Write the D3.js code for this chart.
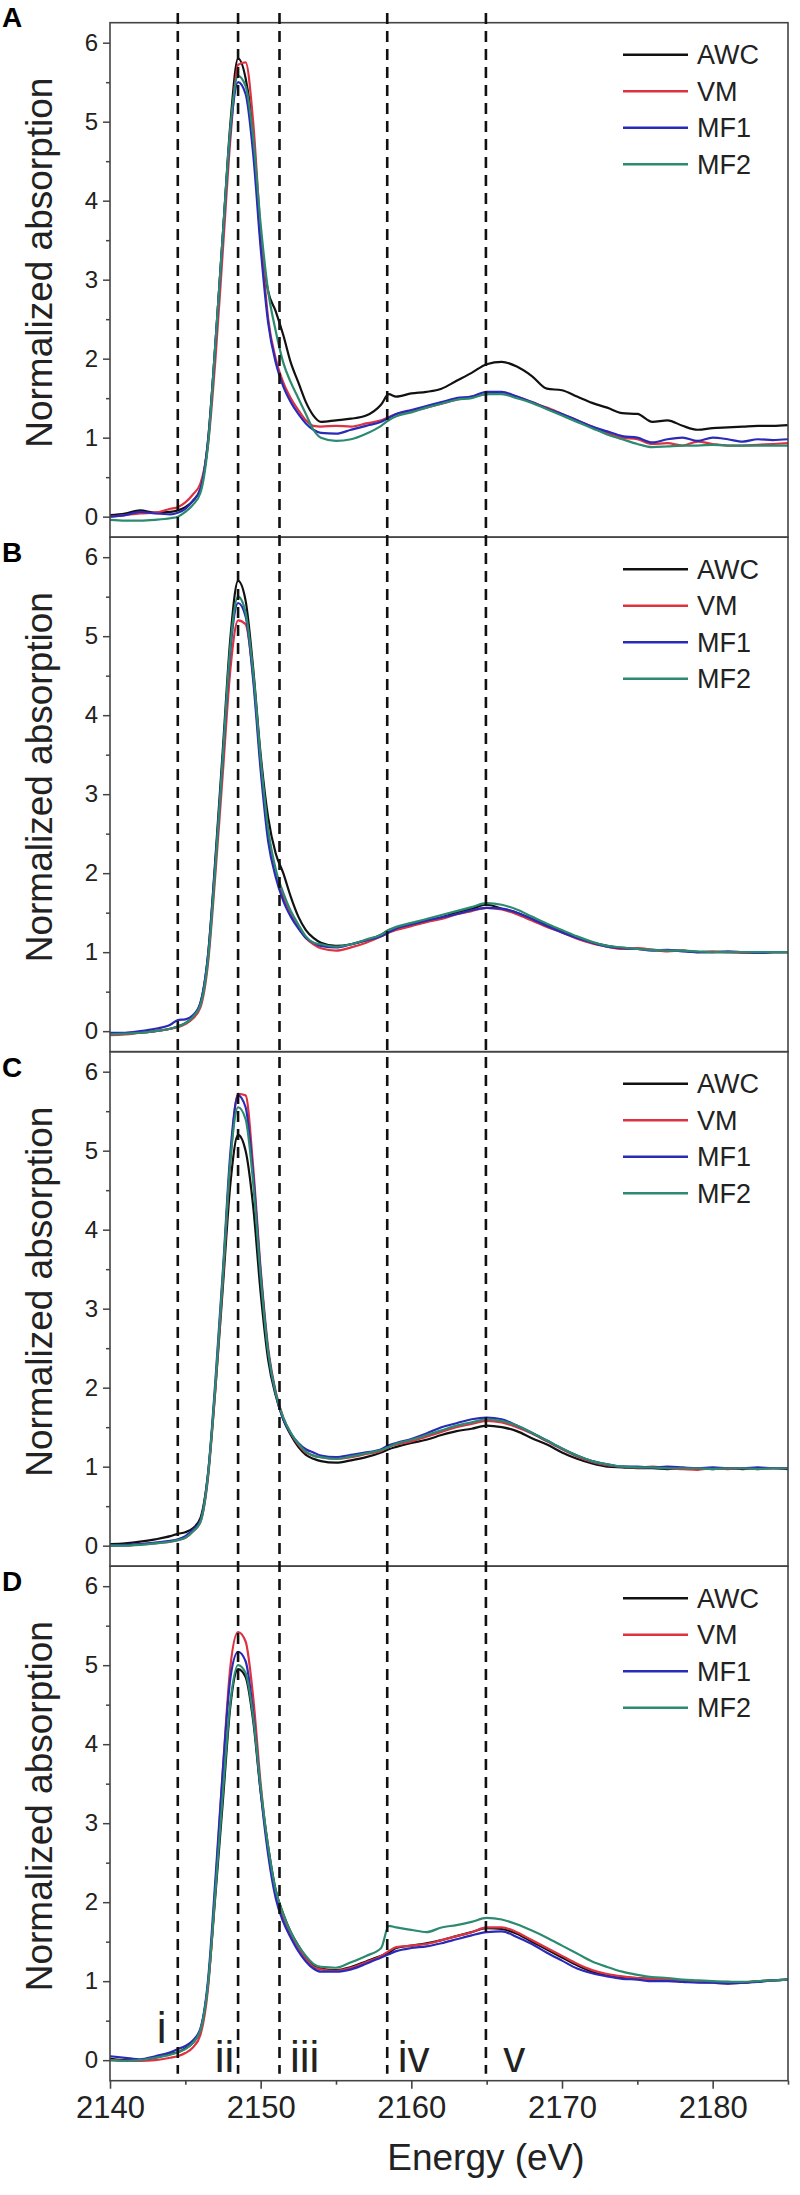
<!DOCTYPE html>
<html>
<head>
<meta charset="utf-8">
<script src="https://cdn.jsdelivr.net/npm/d3@7"></script>
<style>
  body { margin: 0; background: #fff; }
  svg { display: block; font-family: "Liberation Sans", Arial, sans-serif; }
</style>
</head>
<body>
<svg id="chart" width="800" height="2195"></svg>
<script>
'use strict';

// shared energy grid (eV)
var energy = [2140, 2141, 2142, 2143, 2144, 2144.5, 2145, 2145.5, 2146, 2146.5,
  2147, 2147.5, 2148, 2148.5, 2149, 2149.5, 2150, 2150.5, 2151, 2151.5,
  2152, 2152.5, 2153, 2153.5, 2154, 2155, 2156, 2157, 2158, 2158.5,
  2159, 2160, 2161, 2162, 2163, 2164, 2165, 2166, 2167, 2168,
  2169, 2170, 2171, 2172, 2173, 2174, 2175, 2176, 2177, 2178,
  2179, 2180, 2181, 2182, 2183, 2184, 2185];

var seriesNames = ['AWC', 'VM', 'MF1', 'MF2'];
var panelLabels = ['A', 'B', 'C', 'D'];

// panel A
var aAWC = [0.02, 0.04, 0.08, 0.05, 0.06, 0.08, 0.12, 0.2, 0.35, 0.95, 2.2, 3.6, 5.0, 5.8, 5.55, 4.85, 3.5, 2.85, 2.6, 2.3, 1.95, 1.7, 1.45, 1.28, 1.2, 1.22, 1.24, 1.28, 1.42, 1.55, 1.52, 1.56, 1.58, 1.62, 1.72, 1.82, 1.93, 1.96, 1.9, 1.78, 1.62, 1.6, 1.52, 1.44, 1.38, 1.31, 1.3, 1.2, 1.22, 1.15, 1.1, 1.12, 1.13, 1.14, 1.15, 1.15, 1.16];
var aVM = [0.0, 0.02, 0.04, 0.05, 0.1, 0.12, 0.18, 0.28, 0.42, 0.9, 2.0, 3.4, 4.8, 5.72, 5.75, 5.0, 3.6, 2.5, 2.0, 1.7, 1.5, 1.35, 1.22, 1.15, 1.14, 1.15, 1.14, 1.18, 1.22, 1.26, 1.3, 1.33, 1.38, 1.43, 1.48, 1.52, 1.55, 1.56, 1.52, 1.45, 1.38, 1.3, 1.22, 1.14, 1.06, 1.0, 0.98, 0.92, 0.93, 0.9, 0.95, 0.92, 0.9, 0.9, 0.91, 0.92, 0.93];
var aMF1 = [0.0, 0.02, 0.06, 0.04, 0.03, 0.05, 0.1, 0.2, 0.35, 0.95, 2.2, 3.6, 4.9, 5.5, 5.35, 4.6, 3.4, 2.45, 1.95, 1.65, 1.45, 1.3, 1.18, 1.1, 1.06, 1.05, 1.1, 1.15, 1.2, 1.25, 1.3, 1.35, 1.4, 1.45, 1.5, 1.52, 1.58, 1.58, 1.52, 1.45, 1.37, 1.3, 1.22, 1.14, 1.08, 1.02, 1.0, 0.94, 0.98, 1.0, 0.96, 1.0, 0.98, 0.95, 0.98, 0.97, 0.98];
var aMF2 = [-0.04, -0.05, -0.05, -0.04, -0.02, 0.0, 0.06, 0.15, 0.3, 0.9, 2.2, 3.6, 4.95, 5.58, 5.45, 4.8, 3.7, 2.85, 2.35, 1.95, 1.7, 1.5, 1.3, 1.1, 1.0, 0.96, 0.98, 1.05, 1.15, 1.22, 1.27, 1.32, 1.38, 1.43, 1.48, 1.5, 1.55, 1.55, 1.5, 1.44, 1.36, 1.28, 1.2, 1.12, 1.04, 0.98, 0.92, 0.88, 0.89, 0.9, 0.9, 0.91, 0.9, 0.9, 0.9, 0.9, 0.9];

// panel B
var bAWC = [-0.04, -0.03, -0.02, 0.0, 0.03, 0.06, 0.1, 0.18, 0.35, 0.95, 2.2, 3.6, 5.0, 5.7, 5.45, 4.6, 3.5, 2.7, 2.25, 2.0, 1.7, 1.45, 1.28, 1.18, 1.12, 1.08, 1.1, 1.15, 1.22, 1.28, 1.3, 1.36, 1.4, 1.44, 1.5, 1.55, 1.6, 1.55, 1.5, 1.42, 1.34, 1.26, 1.18, 1.12, 1.08, 1.05, 1.04, 1.03, 1.02, 1.02, 1.0, 1.0, 1.0, 1.0, 0.99, 1.0, 1.0];
var bVM = [-0.05, -0.04, -0.02, 0.0, 0.03, 0.05, 0.09, 0.16, 0.3, 0.85, 2.0, 3.3, 4.6, 5.2, 5.15, 4.5, 3.4, 2.5, 2.0, 1.7, 1.5, 1.32, 1.18, 1.1, 1.05, 1.02, 1.06, 1.12, 1.2, 1.25, 1.28, 1.33, 1.38, 1.42, 1.48, 1.52, 1.56, 1.54, 1.48, 1.4, 1.32, 1.25, 1.17, 1.11, 1.07, 1.04, 1.05, 1.03, 1.01, 1.02, 1.0, 1.01, 1.0, 0.99, 1.0, 1.0, 1.0];
var bMF1 = [-0.02, -0.02, 0.0, 0.03, 0.08, 0.14, 0.15, 0.2, 0.36, 0.95, 2.15, 3.5, 4.85, 5.42, 5.25, 4.45, 3.3, 2.4, 1.95, 1.65, 1.45, 1.3, 1.18, 1.12, 1.08, 1.06, 1.1, 1.15, 1.2, 1.25, 1.3, 1.35, 1.4, 1.44, 1.48, 1.53, 1.56, 1.55, 1.5, 1.42, 1.33, 1.25, 1.18, 1.12, 1.07, 1.05, 1.04, 1.02, 1.03, 1.01, 1.0, 1.0, 1.01, 1.0, 0.99, 1.0, 1.0];
var bMF2 = [-0.04, -0.03, -0.02, 0.0, 0.03, 0.06, 0.1, 0.18, 0.33, 0.9, 2.1, 3.5, 4.9, 5.5, 5.3, 4.55, 3.45, 2.55, 2.05, 1.75, 1.52, 1.35, 1.2, 1.12, 1.1, 1.07, 1.1, 1.16, 1.22, 1.28, 1.32, 1.37, 1.42, 1.47, 1.52, 1.57, 1.62, 1.6, 1.54, 1.45, 1.36, 1.28, 1.2, 1.13, 1.08, 1.06, 1.04, 1.03, 1.02, 1.02, 1.01, 1.0, 1.0, 1.0, 1.0, 1.0, 1.0];

// panel C
var cAWC = [0.02, 0.03, 0.05, 0.08, 0.12, 0.15, 0.17, 0.22, 0.35, 0.9, 2.0, 3.3, 4.6, 5.2, 5.0, 4.3, 3.2, 2.35, 1.9, 1.6, 1.4, 1.25, 1.15, 1.1, 1.07, 1.05, 1.08, 1.12, 1.18, 1.22, 1.25, 1.3, 1.34, 1.4, 1.45, 1.48, 1.52, 1.5, 1.45, 1.36, 1.28, 1.18, 1.1, 1.04, 1.0, 0.99, 0.98, 0.98, 0.97, 0.98, 0.98, 0.97, 0.98, 0.97, 0.98, 0.98, 0.97];
var cVM = [0.0, 0.0, 0.02, 0.03, 0.05, 0.07, 0.1, 0.18, 0.3, 0.85, 2.0, 3.4, 4.9, 5.72, 5.7, 4.8, 3.5, 2.5, 1.95, 1.62, 1.42, 1.28, 1.18, 1.14, 1.12, 1.1, 1.12, 1.16, 1.2, 1.25, 1.28, 1.32, 1.38, 1.44, 1.5, 1.54, 1.58, 1.56, 1.5, 1.42, 1.32, 1.22, 1.13, 1.06, 1.02, 1.0, 0.99, 1.0, 0.98, 0.97, 0.96, 0.98, 0.97, 0.98, 0.97, 0.98, 0.98];
var cMF1 = [0.0, 0.01, 0.02, 0.04, 0.06, 0.08, 0.12, 0.2, 0.32, 0.9, 2.1, 3.5, 5.0, 5.7, 5.55, 4.7, 3.45, 2.45, 1.92, 1.6, 1.42, 1.3, 1.22, 1.18, 1.14, 1.12, 1.15, 1.18, 1.22, 1.27, 1.3, 1.35, 1.42, 1.5, 1.55, 1.6, 1.62, 1.6, 1.52, 1.43, 1.33, 1.23, 1.14, 1.07, 1.03, 1.0, 1.0, 0.99, 1.0, 0.99, 0.98, 0.99, 0.98, 0.98, 0.99, 0.98, 0.98];
var cMF2 = [0.0, 0.0, 0.01, 0.03, 0.05, 0.07, 0.1, 0.18, 0.3, 0.88, 2.05, 3.45, 4.9, 5.55, 5.4, 4.6, 3.4, 2.45, 1.93, 1.62, 1.43, 1.29, 1.19, 1.14, 1.12, 1.1, 1.13, 1.17, 1.21, 1.25, 1.29, 1.34, 1.4, 1.46, 1.52, 1.56, 1.6, 1.58, 1.52, 1.43, 1.33, 1.23, 1.14, 1.07, 1.03, 1.0, 0.99, 0.99, 0.98, 0.98, 0.98, 0.97, 0.98, 0.98, 0.97, 0.98, 0.98];

// panel D
var dAWC = [0.02, 0.0, 0.0, 0.03, 0.08, 0.1, 0.15, 0.22, 0.38, 0.95, 2.1, 3.3, 4.5, 4.95, 4.85, 4.3, 3.4, 2.7, 2.15, 1.85, 1.62, 1.45, 1.3, 1.2, 1.16, 1.14, 1.18, 1.25, 1.32, 1.36, 1.42, 1.45, 1.48, 1.52, 1.57, 1.62, 1.67, 1.66, 1.6, 1.5, 1.4, 1.3, 1.2, 1.12, 1.08, 1.05, 1.04, 1.03, 1.02, 1.0, 1.0, 0.99, 0.99, 0.98, 1.0, 1.01, 1.02];
var dVM = [0.0, -0.01, -0.01, 0.0, 0.03, 0.05, 0.09, 0.16, 0.32, 0.9, 2.2, 3.7, 5.0, 5.42, 5.3, 4.6, 3.5, 2.65, 2.1, 1.8, 1.58, 1.42, 1.28, 1.18, 1.15, 1.13, 1.17, 1.24, 1.32, 1.38, 1.43, 1.45, 1.47, 1.52, 1.57, 1.62, 1.68, 1.68, 1.62, 1.52, 1.42, 1.32, 1.22, 1.14, 1.09, 1.06, 1.04, 1.03, 1.02, 1.0, 0.99, 0.98, 0.97, 0.98, 1.0, 1.01, 1.02];
var dMF1 = [0.05, 0.03, 0.01, 0.05, 0.1, 0.14, 0.18, 0.25, 0.4, 1.0, 2.3, 3.7, 4.85, 5.17, 5.05, 4.4, 3.4, 2.6, 2.05, 1.75, 1.55, 1.38, 1.25, 1.16, 1.12, 1.12, 1.15, 1.22, 1.3, 1.34, 1.38, 1.42, 1.44, 1.48, 1.53, 1.58, 1.62, 1.63, 1.56, 1.47, 1.36, 1.26, 1.16, 1.1, 1.06, 1.03, 1.02, 1.0, 1.0, 0.99, 0.98, 0.98, 0.97, 0.98, 0.99, 1.01, 1.02];
var dMF2 = [0.0, -0.01, 0.0, 0.03, 0.07, 0.1, 0.14, 0.22, 0.38, 0.95, 2.15, 3.4, 4.55, 5.0, 4.9, 4.35, 3.45, 2.7, 2.15, 1.85, 1.62, 1.45, 1.32, 1.22, 1.18, 1.17, 1.24, 1.32, 1.42, 1.7, 1.68, 1.65, 1.62, 1.68, 1.71, 1.75, 1.8, 1.78, 1.72, 1.64, 1.55, 1.45, 1.35, 1.25, 1.18, 1.12, 1.08, 1.05, 1.04, 1.02, 1.01, 1.0, 0.99, 0.99, 1.0, 1.01, 1.02];

var panelSeries = [
  [aAWC, aVM, aMF1, aMF2],
  [bAWC, bVM, bMF1, bMF2],
  [cAWC, cVM, cMF1, cMF2],
  [dAWC, dVM, dMF1, dMF2]
];

// dashed markers and their roman numeral labels
var markerEnergies = [2144.5, 2148.5, 2151.25, 2158.4, 2164.95];
var markerLabels = ['i', 'ii', 'iii', 'iv', 'v'];
var markerLabelEnergies = [2143.1, 2146.95, 2151.95, 2159.1, 2166.1];

var xTicks = [2140, 2150, 2160, 2170, 2180];
var yTicks = [0, 1, 2, 3, 4, 5, 6];

var colors = ['#111111', '#dd3341', '#2a2ab8', '#2b8a70'];

var svg = d3.select('#chart');
var left = 110, right = 788;
var firstTop = 22.7, panelHeight = 514.5;

var x = d3.scaleLinear().domain([2140, 2185]).range([left, right]);

function panelTop(i) {
  return firstTop + i * panelHeight;
}

function drawPanel(i) {
  var top = panelTop(i);
  var bottom = top + panelHeight;
  var y = d3.scaleLinear().domain([-0.26, 6.253]).range([bottom, top]);
  var g = svg.append('g').attr('class', 'panel');

  g.append('clipPath').attr('id', 'clip' + i)
    .append('rect')
    .attr('x', left).attr('y', top)
    .attr('width', right - left).attr('height', panelHeight);

  // y axis with half-unit minor ticks
  var yAxis = d3.axisLeft(y).tickValues(yTicks).tickSize(7).tickPadding(5)
    .tickFormat(d3.format('d'));
  var ya = g.append('g').attr('transform', 'translate(' + left + ',0)').call(yAxis);
  ya.select('.domain').remove();
  ya.selectAll('text').style('font-size', '24px').attr('fill', '#222');
  ya.selectAll('line').attr('stroke', '#444').attr('stroke-width', 1.5);

  var ym = d3.axisLeft(y).tickValues([0.5, 1.5, 2.5, 3.5, 4.5, 5.5]).tickSize(4).tickFormat('');
  var ymg = g.append('g').attr('transform', 'translate(' + left + ',0)').call(ym);
  ymg.select('.domain').remove();
  ymg.selectAll('line').attr('stroke', '#444').attr('stroke-width', 1.5);

  var line = d3.line()
    .x(function (d, k) { return x(energy[k]); })
    .y(function (d) { return y(d); })
    .curve(d3.curveMonotoneX);

  var lines = g.append('g').attr('clip-path', 'url(#clip' + i + ')');
  panelSeries[i].forEach(function (values, s) {
    lines.append('path')
      .datum(values)
      .attr('d', line)
      .attr('fill', 'none')
      .attr('stroke', colors[s])
      .attr('stroke-width', 2.2)
      .attr('stroke-linejoin', 'round');
  });

  // frame
  g.append('rect')
    .attr('x', left).attr('y', top)
    .attr('width', right - left).attr('height', panelHeight)
    .attr('fill', 'none').attr('stroke', '#444').attr('stroke-width', 1.6);

  // legend
  var legend = g.append('g');
  seriesNames.forEach(function (name, s) {
    var ly = top + 32 + s * 36.5;
    legend.append('line')
      .attr('x1', 623).attr('x2', 688)
      .attr('y1', ly).attr('y2', ly)
      .attr('stroke', colors[s]).attr('stroke-width', 2.5);
    legend.append('text')
      .attr('x', 697).attr('y', ly).attr('dy', '0.36em')
      .style('font-size', '27px').attr('fill', '#222')
      .text(name);
  });

  g.append('text')
    .attr('transform', 'translate(52,' + (top + 240) + ') rotate(-90)')
    .attr('text-anchor', 'middle')
    .style('font-size', '37px').attr('fill', '#222')
    .text('Normalized absorption');

  g.append('text')
    .attr('x', 2).attr('y', i === 0 ? 27 : top + 25)
    .style('font-size', '28px').style('font-weight', 'bold').attr('fill', '#000')
    .text(panelLabels[i]);

  return y;
}

for (var i = 0; i < 4; i++) {
  drawPanel(i);
}

var axisY = panelTop(4);

// bottom energy axis, only on the last panel
var xAxis = d3.axisBottom(x).tickValues(xTicks).tickSize(8).tickPadding(7)
  .tickFormat(d3.format('d'));
var xa = svg.append('g').attr('transform', 'translate(0,' + axisY + ')').call(xAxis);
xa.select('.domain').remove();
xa.selectAll('text').style('font-size', '31px').attr('fill', '#222');
xa.selectAll('line').attr('stroke', '#444').attr('stroke-width', 1.6);

var xm = d3.axisBottom(x).tickValues([2145, 2155, 2165, 2175, 2185]).tickSize(4).tickFormat('');
var xmg = svg.append('g').attr('transform', 'translate(0,' + axisY + ')').call(xm);
xmg.select('.domain').remove();
xmg.selectAll('line').attr('stroke', '#444').attr('stroke-width', 1.6);

svg.append('text')
  .attr('x', 486).attr('y', 2170)
  .attr('text-anchor', 'middle')
  .style('font-size', '37px').attr('fill', '#222')
  .text('Energy (eV)');

// dashed lines through all four panels
svg.append('g').selectAll('line')
  .data(markerEnergies)
  .join('line')
  .attr('x1', function (d) { return x(d); })
  .attr('x2', function (d) { return x(d); })
  .attr('y1', 13).attr('y2', axisY - 7)
  .attr('stroke', '#111').attr('stroke-width', 2.6)
  .attr('stroke-dasharray', '11,7');

svg.append('g').selectAll('text')
  .data(markerLabels)
  .join('text')
  .attr('x', function (d, k) { return x(markerLabelEnergies[k]); })
  .attr('y', function (d, k) { return k === 0 ? 2043 : 2072; })
  .style('font-size', '44px').attr('fill', '#222')
  .text(function (d) { return d; });
</script>
</body>
</html>
